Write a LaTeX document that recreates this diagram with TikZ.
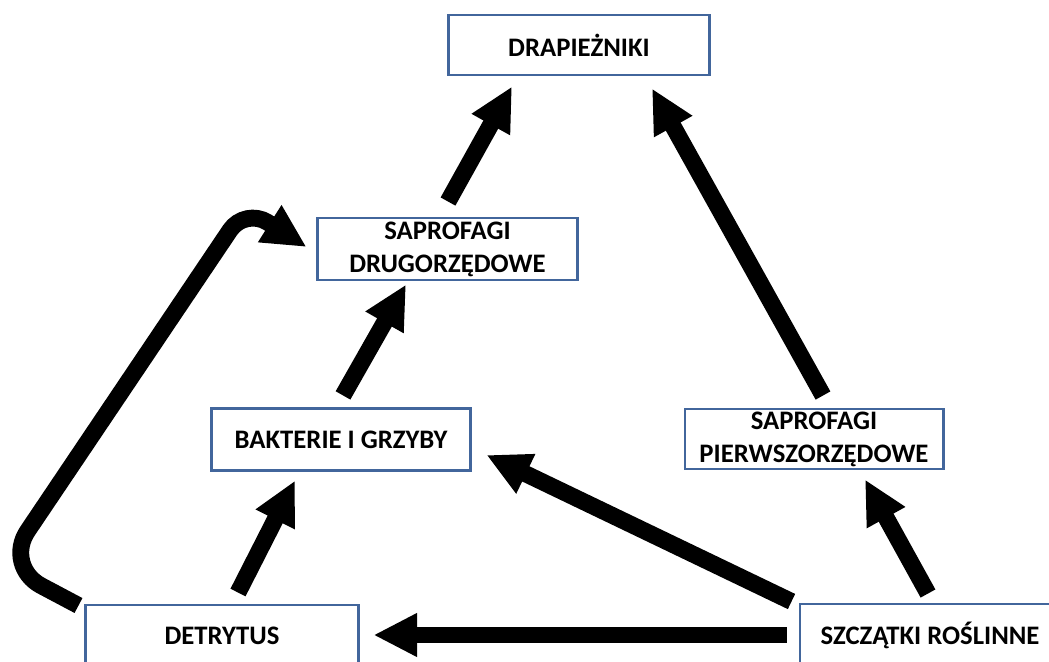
\documentclass[tikz,border=0pt]{standalone}
\usepackage{fontspec}
\setmainfont{Carlito}
\usetikzlibrary{arrows.meta,calc}
\definecolor{boxblue}{RGB}{66,102,156}

\begin{document}
\begin{tikzpicture}[x=0.025cm,y=-0.025cm,
    box/.style={draw=boxblue,line width=2.1pt,fill=white,inner sep=0pt,
      minimum height=1.53cm,align=center,
      font=\fontsize{19}{23.5}\selectfont\bfseries},
    flow/.style={line width=12pt,-{Triangle[width=29pt,length=31pt]}}]
  \useasboundingbox (0,0) rectangle (1049,662);
  % boxes
  \node[box,minimum width=6.5cm,minimum height=1.5cm] (drap) at (579,45) {DRAPIEŻNIKI};
  \node[box,minimum width=6.475cm,minimum height=1.55cm] (sapII) at (447.5,249) {SAPROFAGI\\DRUGORZĘDOWE};
  \node[box,minimum width=6.45cm] (bakt) at (341,439.5) {BAKTERIE I GRZYBY};
  \node[box,minimum width=6.45cm,minimum height=1.5cm] (sapI) at (814,439) {SAPROFAGI\\PIERWSZORZĘDOWE};
  \node[box,minimum width=6.5cm,minimum height=1.55cm] (szcz) at (930,635) {SZCZĄTKI ROŚLINNE};
  \node[box,minimum width=6.8cm,minimum height=1.55cm] (detr) at (222,636) {DETRYTUS};
  % arrows
  \draw[flow] ($(sapII.north)+(0.5,-15)$) -- ($(drap.south)+(-67,10)$);
  \draw[flow] ($(sapI.north)+(9,-12)$) -- ($(drap.south)+(73,12)$);
  \draw[flow] ($(bakt.north)+(2,-12)$) -- ($(sapII.south)+(-41.5,3)$);
  \draw[flow] ($(detr.north)+(16,-11)$) -- ($(bakt.south)+(-46,9)$);
  \draw[flow] ($(szcz.north west)+(-7,-1)$) -- ($(bakt.east)+(15,15.5)$);
  \draw[flow] ($(szcz.north)+(-2,-9)$) -- ($(sapI.south)+(51,9)$);
  \draw[flow] ($(szcz.west)+(-12,0)$) -- ($(detr.east)+(14,-1)$);
  \draw[flow,rounded corners=30pt] ($(detr.north west)+(-6,2)$) -- (4,566)
    [rounded corners=19pt] -- (245,208) -- ($(sapII.west)+(-10,-2)$);
\end{tikzpicture}
\end{document}
